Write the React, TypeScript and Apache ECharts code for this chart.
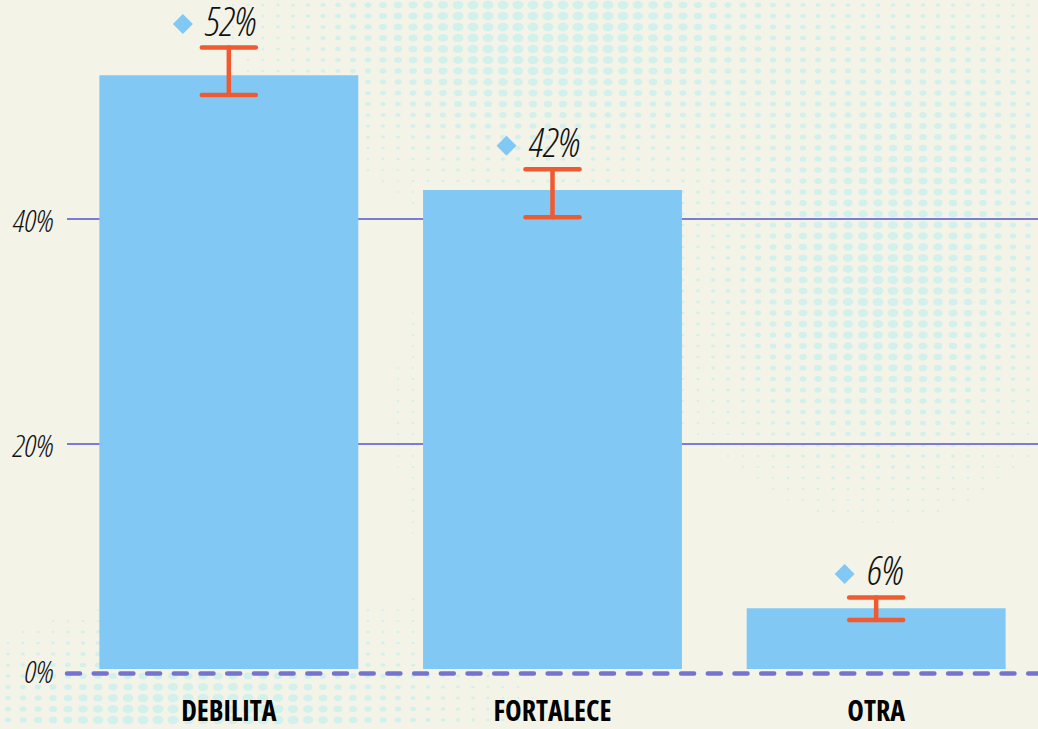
import React, { useEffect, useRef } from "react";
import * as echarts from "echarts";

const categories = ["DEBILITA", "FORTALECE", "OTRA"];
const values = [52.7, 42.5, 5.4];
const errLow = [50.95, 40.1, 4.35];
const errHigh = [55.15, 44.35, 6.35];
const pointLabels = ["52%", "42%", "6%"];
const yTickValues = [0, 20, 40];

const W = 1038;
const H = 729;
const BG = "#f3f3e8";
const DOT = "#d3f1ec";
const LABEL_FONT = 'italic 300 condensed 40px "Open Sans"';
const YTICK_FONT = 'italic 300 condensed 32px "Open Sans"';
const XTICK_FONT = 'bold condensed 28px "Open Sans"';

// decorative halftone texture (background only)
function makeHalftone(): string {
  const c = document.createElement("canvas");
  c.width = W;
  c.height = H;
  const ctx = c.getContext("2d")!;
  ctx.fillStyle = BG;
  ctx.fillRect(0, 0, W, H);
  const blobs = [
    { cx: 540, cy: 20, sx: 240, sy: 130, a: 1.1 },
    { cx: 880, cy: 300, sx: 170, sy: 180, a: 0.95 },
    { cx: 200, cy: 735, sx: 230, sy: 100, a: 1.2 },
    { cx: 980, cy: 80, sx: 170, sy: 150, a: 0.4 },
    { cx: 500, cy: 420, sx: 130, sy: 220, a: 0.4 },
  ];
  ctx.fillStyle = DOT;
  for (let y = 5; y < H; y += 11) {
    for (let x = 8; x < W; x += 15) {
      let s = 0;
      for (const b of blobs) {
        const dx = (x - b.cx) / b.sx;
        const dy = (y - b.cy) / b.sy;
        s += b.a * Math.exp(-(dx * dx + dy * dy));
      }
      const r = Math.min(1, s) * 4.4;
      if (r < 0.9) continue;
      ctx.beginPath();
      ctx.ellipse(x, y, r * 1.25, r * 0.95, 0, 0, Math.PI * 2);
      ctx.fill();
    }
  }
  return c.toDataURL();
}

let measureCtx: CanvasRenderingContext2D | null = null;
function textWidth(t: string, font: string) {
  if (!measureCtx) measureCtx = document.createElement("canvas").getContext("2d");
  measureCtx!.font = font;
  return measureCtx!.measureText(t).width;
}

export default function App() {
  const ref = useRef<HTMLDivElement>(null);
  useEffect(() => {
    document.body.style.margin = "0";
    ref.current!.style.backgroundImage = "url(" + makeHalftone() + ")";
    const chart = echarts.init(ref.current!, null, { renderer: "svg" });
    const errData = categories.map((_, i) => [i, errLow[i], errHigh[i]]);
    const yLabelData = yTickValues.map((v) => [0, v]);
    const xLabelData = categories.map((_, i) => [i, 0]);
    chart.setOption({
      animation: false,
      backgroundColor: "transparent",
      grid: { left: 67, width: 978, top: 38, bottom: 60, containLabel: false },
      xAxis: {
        type: "category",
        data: categories,
        offset: 4,
        axisTick: { show: false },
        axisLabel: { show: false },
        axisLine: {
          show: true,
          onZero: false,
          lineStyle: { color: "#7474d0", width: 4.5, type: [13, 13.7], cap: "round" },
        },
      },
      yAxis: {
        type: "value",
        min: 0,
        max: 56,
        interval: 20,
        axisLine: { show: false },
        axisTick: { show: false },
        axisLabel: { show: false },
        splitLine: {
          show: true,
          lineStyle: { color: ["transparent", "#7b7bd8", "#7b7bd8", "transparent"], width: 2 },
        },
      },
      series: [
        {
          type: "bar",
          data: values,
          barCategoryGap: "20%",
          itemStyle: { color: "#82c8f4" },
          z: 2,
        },
        {
          // y-axis tick labels (drawn with condensed font)
          type: "custom",
          data: yLabelData,
          z: 4,
          silent: true,
          renderItem: (params: any, api: any) => {
            const v = api.value(1);
            const pt = api.coord([0, v]);
            const bw = api.size([1, 0])[0];
            return {
              type: "text",
              x: pt[0] - bw / 2 - 13,
              y: pt[1] + 1,
              style: {
                text: v + "%",
                font: YTICK_FONT,
                fill: "#111",
                align: "right",
                verticalAlign: "middle",
              },
            };
          },
        },
        {
          // x-axis category labels
          type: "custom",
          data: xLabelData,
          z: 4,
          silent: true,
          renderItem: (params: any, api: any) => {
            const idx = api.value(0);
            const pt = api.coord([idx, 0]);
            return {
              type: "text",
              x: pt[0],
              y: pt[1] + 41,
              style: {
                text: categories[params.dataIndex],
                font: XTICK_FONT,
                lineHeight: 28,
                fill: "#000",
                align: "center",
                verticalAlign: "middle",
              },
            };
          },
        },
        {
          type: "custom",
          data: errData,
          z: 5,
          renderItem: (params: any, api: any) => {
            const idx = api.value(0);
            const lo = api.value(1);
            const hi = api.value(2);
            const topPt = api.coord([idx, hi]);
            const botPt = api.coord([idx, lo]);
            const x = topPt[0];
            const yt = topPt[1];
            const yb = botPt[1];
            const half = 27;
            const stroke = { stroke: "#f05a30", lineWidth: 4.5, lineCap: "round" };
            const label = pointLabels[params.dataIndex];
            const right = x + half + 1;
            const tw = textWidth(label, LABEL_FONT);
            const dx = right - tw - 23;
            const dy = yt - 23.5;
            const d = 10;
            return {
              type: "group",
              children: [
                { type: "line", shape: { x1: x, y1: yt, x2: x, y2: yb }, style: stroke },
                { type: "line", shape: { x1: x - half, y1: yt, x2: x + half, y2: yt }, style: stroke },
                { type: "line", shape: { x1: x - half, y1: yb, x2: x + half, y2: yb }, style: stroke },
                {
                  type: "polygon",
                  shape: { points: [[dx, dy - d], [dx + d, dy], [dx, dy + d], [dx - d, dy]] },
                  style: { fill: "#82c8f4" },
                },
                {
                  type: "text",
                  x: right,
                  y: yt - 27.5,
                  style: {
                    text: label,
                    font: LABEL_FONT,
                    lineHeight: 32,
                    fill: "#111",
                    align: "right",
                    verticalAlign: "middle",
                  },
                },
              ],
            };
          },
        },
      ],
    });
    return () => chart.dispose();
  }, []);
  return (
    <div
      ref={ref}
      style={{ position: "absolute", left: 0, top: 0, width: W, height: H, backgroundColor: BG }}
    />
  );
}
